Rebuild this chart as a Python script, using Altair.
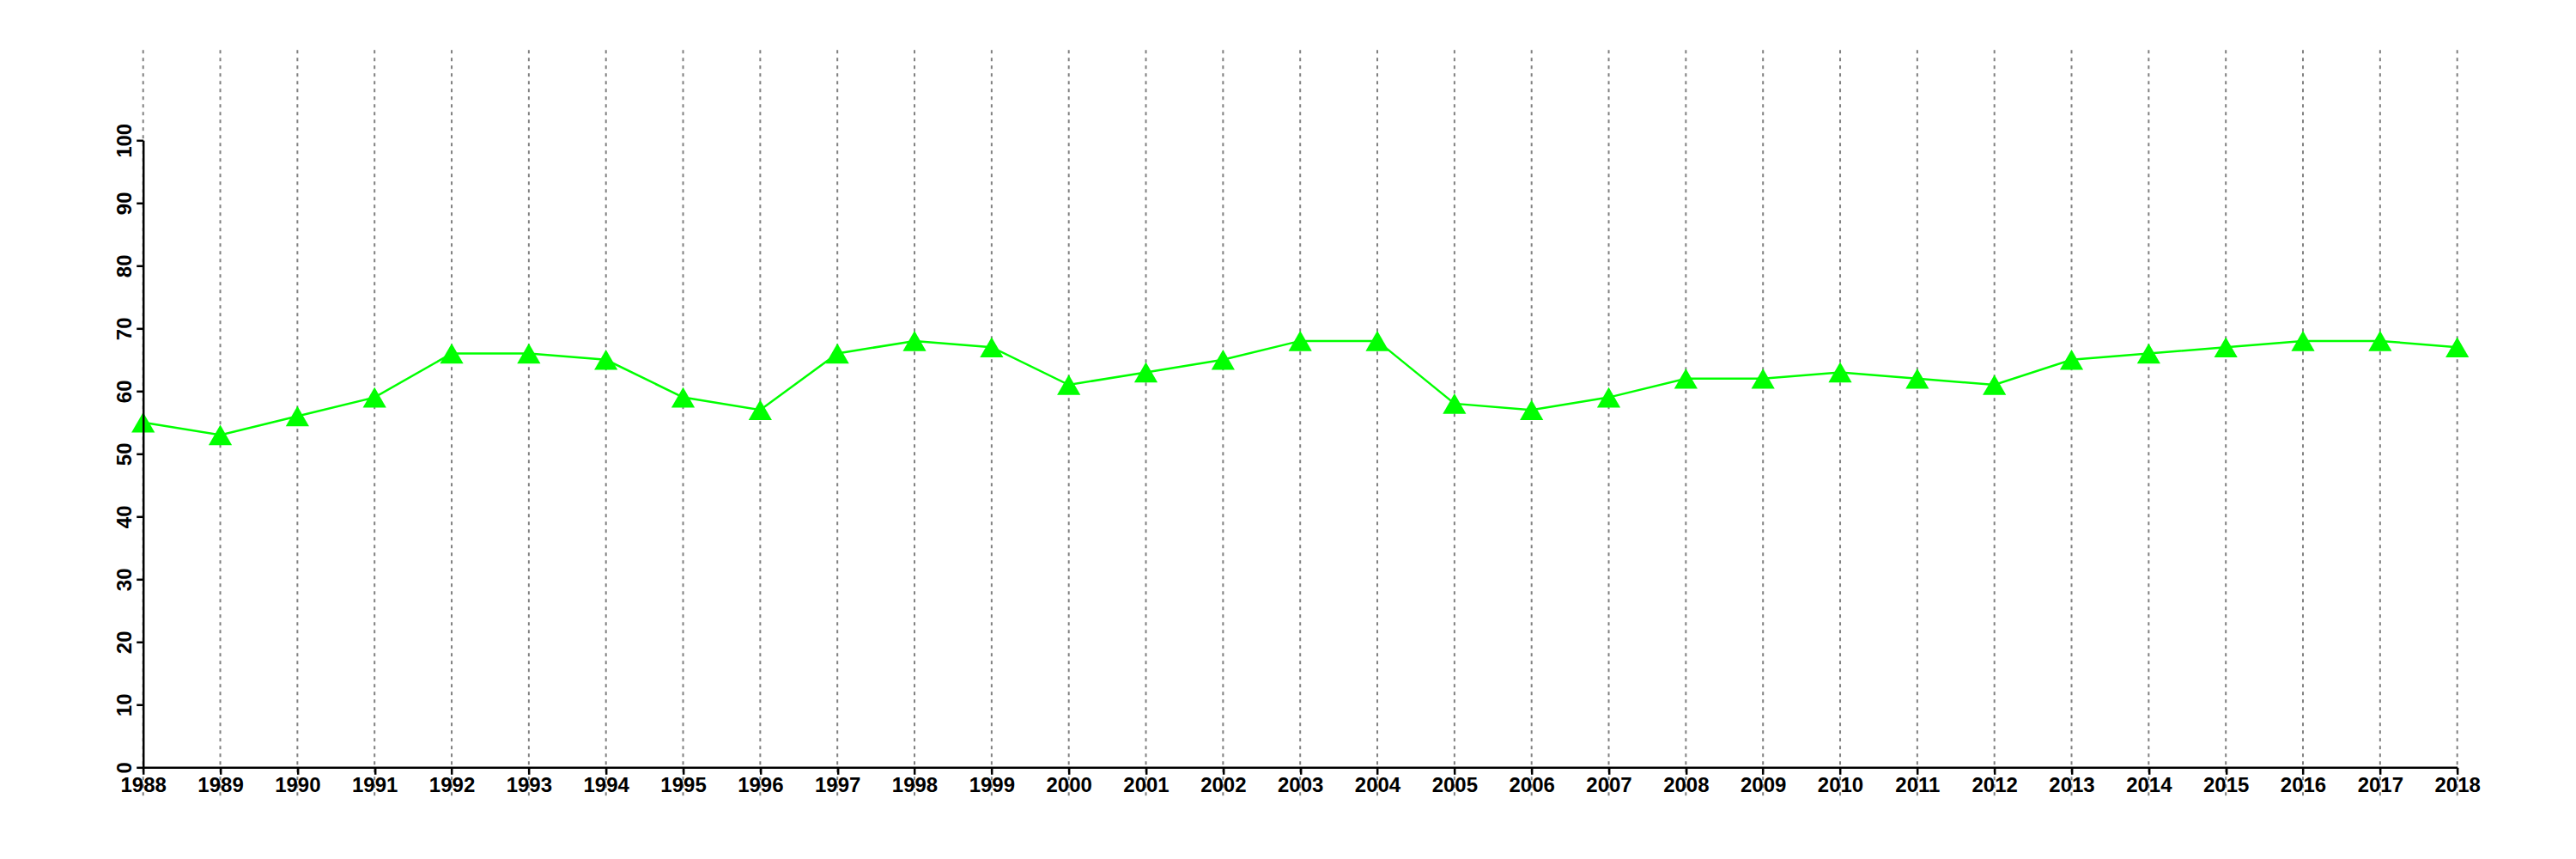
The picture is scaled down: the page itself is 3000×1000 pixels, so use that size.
import altair as alt
import pandas as pd

years = list(range(1988, 2019))
values = [55, 53, 56, 59, 66, 66, 65, 59, 57, 66, 68, 67, 61, 63, 65, 68, 68,
          58, 57, 59, 62, 62, 63, 62, 61, 65, 66, 67, 68, 68, 67]
y_ticks = list(range(0, 101, 10))

df = pd.DataFrame({"year": years, "value": values})
W, H = 2695, 730

x_enc = alt.X("year:Q", scale=alt.Scale(domain=[1988, 2018], nice=False, zero=False),
              axis=alt.Axis(values=years, format="d", title=None, labelAngle=0,
                            labelFont="Liberation Sans", labelFontWeight="bold",
                            labelFontSize=24, labelColor="black", labelPadding=1,
                            labelFlush=False,
                            tickSize=8, tickWidth=2.5, tickColor="black",
                            domainColor="black", domainWidth=2.5, grid=False,
                            labelOverlap=False, zindex=1))

grid = alt.Chart(df).mark_rule(color="#808080", strokeWidth=2, strokeDash=[4, 5], clip=False).encode(
    x=x_enc,
    y=alt.value(-105),
    y2=alt.value(H + 34),
)

line = alt.Chart(df).mark_line(
    color="#00ff00", strokeWidth=2.5,
    point=alt.OverlayMarkDef(shape="triangle-up", size=740, filled=True,
                             color="#00ff00", opacity=1),
).encode(
    x=alt.X("year:Q"),
    y=alt.Y("value:Q", scale=alt.Scale(domain=[0, 100], nice=False),
            axis=alt.Axis(values=y_ticks, title=None, labelAngle=-90,
                          labelAlign="center", labelBaseline="alphabetic",
                          labelFont="Liberation Sans", labelFontWeight="bold",
                          labelFontSize=24, labelColor="black", labelPadding=6,
                          labelFlush=False,
                          tickSize=8, tickWidth=2.5, tickColor="black",
                          domainColor="black", domainWidth=2.5, grid=False,
                          zindex=1)),
)

chart = alt.layer(grid, line).properties(
    width=W, height=H,
    autosize=alt.AutoSizeParams(type="none"),
    padding={"left": 158.7, "top": 155.3, "right": 130, "bottom": 98.7},
    background="white",
).configure_view(stroke=None)

chart.save("out.html", embed_options={"renderer": "svg", "actions": False})
